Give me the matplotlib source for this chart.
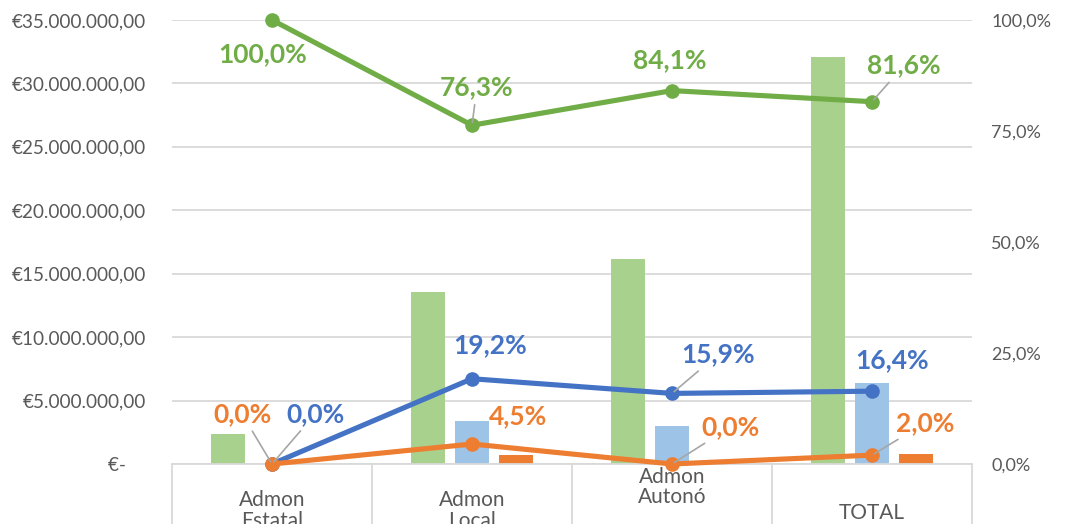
import matplotlib.pyplot as plt
from matplotlib.ticker import FuncFormatter
import numpy as np

# datos
categorias = ["Admon\nEstatal", "Admon\nLocal", "Admon\nAutonó", "TOTAL"]
importe_verde = [2.36e6, 13.55e6, 16.15e6, 32.1e6]
importe_azul = [0.0, 3.39e6, 3.0e6, 6.39e6]
importe_naranja = [0.0, 0.7e6, 0.0, 0.75e6]
pct_verde = [1.0, 0.763, 0.841, 0.816]
pct_azul = [0.0, 0.192, 0.159, 0.164]
pct_naranja = [0.0, 0.045, 0.0, 0.020]

# desplazamientos de etiquetas (puntos) y si llevan linea guia
off_verde = [(-6.5, -24.5), (3.6, 27.4), (-1.4, 22), (23, 26)]
guia_verde = [False, True, False, True]
off_azul = [(31, 36), (13, 24.5), (33, 28), (14.4, 22.3)]
guia_azul = [True, False, True, False]
off_naranja = [(-21.6, 36), (33, 20), (42, 26.6), (38, 23)]
guia_naranja = [True, False, True, True]

verde_claro = "#a9d18e"
verde = "#70ad47"
azul_claro = "#9dc3e6"
azul = "#4472c4"
naranja = "#ed7d31"
gris_txt = "#595959"
gris_lin = "#d9d9d9"

plt.rcParams['font.family'] = ['Lato', 'DejaVu Sans']

fig = plt.figure(figsize=(10.69, 5.24), dpi=100)
ax = fig.add_axes([172/1069, 60/524, 800/1069, 444/524])
x = np.arange(len(categorias))
w = 0.17
ax.bar(x - 0.22, importe_verde, w, color=verde_claro, zorder=2)
ax.bar(x, importe_azul, w, color=azul_claro, zorder=2)
ax.bar(x + 0.22, importe_naranja, w, color=naranja, zorder=2)

ax.set_xlim(-0.5, 3.5)
ax.set_ylim(0, 35e6)
ax.set_yticks(np.arange(0, 35e6 + 1, 5e6))

def euros(v, pos):
    if v == 0:
        return "€-    "
    s = f"{v:,.2f}".replace(",", "X").replace(".", ",").replace("X", ".")
    return "€" + s

ax.yaxis.set_major_formatter(FuncFormatter(euros))
ax.grid(axis='y', color=gris_lin, linewidth=1.3, zorder=0)
ax.tick_params(axis='y', length=0, pad=19, labelsize=13.6, labelcolor=gris_txt)
for s in ["top", "left", "right"]:
    ax.spines[s].set_visible(False)
ax.spines["bottom"].set_color(gris_lin)
ax.spines["bottom"].set_linewidth(1.3)

ax.set_xticks(x)
ax.set_xticklabels([])
ax.tick_params(axis='x', which='major', length=0)
ax.set_xticks(np.arange(-0.5, 4, 1), minor=True)
ax.tick_params(axis='x', which='minor', length=60, color=gris_lin, width=1.3)

# etiquetas de categoria (recortadas abajo como en la imagen)
cat_y = [-0.105, -0.105, -0.052, -0.11]
for i, c in enumerate(categorias):
    ax.text(i, cat_y[i], c, transform=ax.get_xaxis_transform(), ha='center',
            va='center', fontsize=15, color=gris_txt, linespacing=1.05, clip_on=False)

ax2 = ax.twinx()
ax2.set_ylim(0, 1)
ax2.set_yticks([0, 0.25, 0.5, 0.75, 1.0])
ax2.yaxis.set_major_formatter(FuncFormatter(lambda v, p: f"{v*100:.1f}%".replace(".", ",")))
ax2.tick_params(axis='y', length=0, pad=14, labelsize=13, labelcolor=gris_txt)
for s in ax2.spines.values():
    s.set_visible(False)

for vals, col, offs, guias in [(pct_verde, verde, off_verde, guia_verde),
                               (pct_azul, azul, off_azul, guia_azul),
                               (pct_naranja, naranja, off_naranja, guia_naranja)]:
    ax2.plot(x, vals, color=col, linewidth=3.7, marker='o', markersize=9.5,
             solid_capstyle='round', clip_on=False, zorder=3)
    for i, v in enumerate(vals):
        txt = f"{v*100:.1f}%".replace(".", ",")
        ap = None
        if guias[i]:
            ap = dict(arrowstyle='-', color='#a6a6a6', linewidth=1.2, shrinkA=2, shrinkB=2)
        ax2.annotate(txt, (x[i], v), xytext=offs[i], textcoords='offset points',
                     ha='center', va='center', fontsize=19, fontweight='bold',
                     color=col, arrowprops=ap, annotation_clip=False, zorder=4)

fig.savefig("out.png", dpi=100)
